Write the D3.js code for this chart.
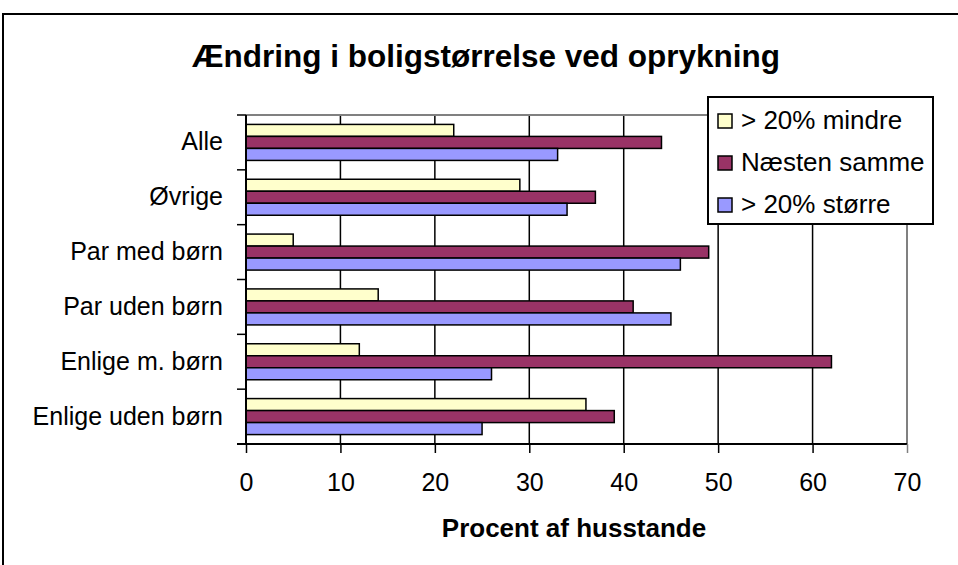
<!DOCTYPE html>
<html>
<head>
  <meta charset="utf-8">
  <title>Ændring i boligstørrelse ved oprykning</title>
  <script src="https://d3js.org/d3.v7.min.js"></script>
  <style>
    body { margin: 0; background: #fff; }
    text { font-family: Arial, "Liberation Sans", sans-serif; fill: #000; }
  </style>
</head>
<body>
  <script>
    // data
    const categories = ['Alle', 'Øvrige', 'Par med børn', 'Par uden børn', 'Enlige m. børn', 'Enlige uden børn'];
    const seriesNames = ['> 20% mindre', 'Næsten samme', '> 20% større'];
    const mindre = [22, 29, 5, 14, 12, 36];
    const samme = [44, 37, 49, 41, 62, 39];
    const stoerre = [33, 34, 46, 45, 26, 25];
    const xTicks = [0, 10, 20, 30, 40, 50, 60, 70];
    const colors = ['#FFFFCC', '#993366', '#9999FF'];

    const width = 958, height = 565;
    const pLeft = 246, pRight = 907, pTop = 115, pBottom = 444;

    const svg = d3.select('body').append('svg')
      .attr('width', width)
      .attr('height', height);

    // outer frame
    svg.append('rect')
      .attr('x', 3).attr('y', 14)
      .attr('width', 970).attr('height', 600)
      .attr('fill', '#fff')
      .attr('stroke', '#000')
      .attr('stroke-width', 2);

    const x = d3.scaleLinear().domain([0, 70]).range([pLeft, pRight]);
    const pad = 1 - 36 / ((pBottom - pTop) / categories.length);
    const y0 = d3.scaleBand().domain(categories).range([pTop, pBottom])
      .paddingInner(pad).paddingOuter(pad / 2);
    const y1 = d3.scaleBand().domain(seriesNames).range([0, y0.bandwidth()]);

    // grid lines
    svg.append('g').selectAll('line')
      .data(xTicks.filter(d => d > 0 && d < 70))
      .join('line')
      .attr('x1', d => x(d)).attr('x2', d => x(d))
      .attr('y1', pTop).attr('y2', pBottom)
      .attr('stroke', '#000').attr('stroke-width', 1.5);

    // plot area border top/right (grey)
    svg.append('path')
      .attr('d', `M${pLeft},${pTop}H${pRight}V${pBottom}`)
      .attr('fill', 'none')
      .attr('stroke', '#808080')
      .attr('stroke-width', 2);

    // bars
    const rows = categories.map((c, i) => ({ cat: c, vals: [mindre[i], samme[i], stoerre[i]] }));
    svg.append('g').selectAll('g')
      .data(rows)
      .join('g')
      .attr('transform', d => `translate(0,${y0(d.cat)})`)
      .selectAll('rect')
      .data(d => d.vals.map((v, j) => ({ s: seriesNames[j], v, j })))
      .join('rect')
      .attr('x', x(0))
      .attr('y', d => y1(d.s))
      .attr('width', d => x(d.v) - x(0))
      .attr('height', y1.bandwidth())
      .attr('fill', d => colors[d.j])
      .attr('stroke', '#000')
      .attr('stroke-width', 1.5);

    // x axis
    const xAxis = d3.axisBottom(x).tickValues(xTicks).tickSize(9).tickPadding(20);
    const gx = svg.append('g').attr('transform', `translate(0,${pBottom})`).call(xAxis);
    gx.select('.domain').attr('stroke-width', 2).attr('d', `M${pLeft - 9},0H${pRight}`);
    gx.selectAll('.tick line').attr('stroke-width', 1.5);
    gx.selectAll('.tick text').style('font-size', '25px').attr('fill', '#000');
    gx.selectAll('.tick').filter(d => d === 70).select('line').attr('stroke', '#808080');

    // y axis
    const yAxis = d3.axisLeft(y0).tickSize(0).tickPadding(23);
    const gy = svg.append('g').attr('transform', `translate(${pLeft},0)`).call(yAxis);
    gy.select('.domain').attr('stroke-width', 2).attr('d', `M0,${pTop}V${pBottom}`);
    gy.selectAll('.tick text').style('font-size', '25px').attr('fill', '#000');

    // category boundary ticks
    const bounds = d3.range(categories.length + 1).map(i => pTop + i * y0.step());
    svg.append('g').selectAll('line')
      .data(bounds)
      .join('line')
      .attr('x1', pLeft - 9).attr('x2', pLeft)
      .attr('y1', d => d).attr('y2', d => d)
      .attr('stroke', '#000').attr('stroke-width', 1.5);

    // title
    svg.append('text')
      .attr('x', 486).attr('y', 67)
      .attr('text-anchor', 'middle')
      .style('font-size', '31.5px')
      .style('font-weight', 'bold')
      .text('Ændring i boligstørrelse ved oprykning');

    // axis title
    svg.append('text')
      .attr('x', 574).attr('y', 537)
      .attr('text-anchor', 'middle')
      .style('font-size', '26px')
      .style('font-weight', 'bold')
      .text('Procent af husstande');

    // legend
    const lg = svg.append('g');
    lg.append('rect')
      .attr('x', 708).attr('y', 97)
      .attr('width', 225).attr('height', 127)
      .attr('fill', '#fff')
      .attr('stroke', '#000')
      .attr('stroke-width', 2);
    const items = lg.selectAll('g')
      .data(seriesNames)
      .join('g')
      .attr('transform', (d, i) => `translate(718,${114 + i * 42})`);
    items.append('rect')
      .attr('width', 14).attr('height', 14)
      .attr('fill', (d, i) => colors[i])
      .attr('stroke', '#000')
      .attr('stroke-width', 1.5);
    items.append('text')
      .attr('x', 23).attr('y', 15)
      .style('font-size', '26px')
      .text(d => d);
  </script>
</body>
</html>
